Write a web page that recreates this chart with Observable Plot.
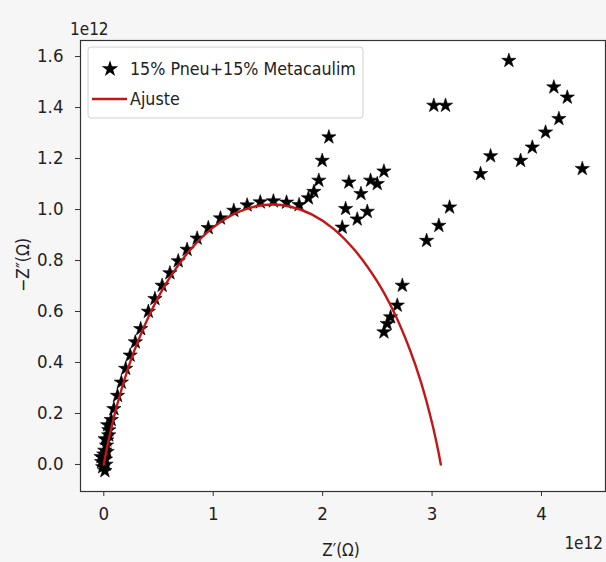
<!DOCTYPE html>
<html><head><meta charset="utf-8">
<script src="https://cdn.jsdelivr.net/npm/d3@7"></script>
<script src="https://cdn.jsdelivr.net/npm/@observablehq/plot@0.6"></script>
<style>
html,body{margin:0;padding:0;background:#f6f6f6;}
#chart{width:606px;height:562px;position:relative;}
</style></head><body><div id="chart"></div>
<script>
// Measured impedance (units of 1e12 Ω)
const zReal = [-0.01,0.01,-0.02,-0.005,0.0,0.008,0.025,0.027,0.045,0.046,0.068,
  0.02,-0.025,0.03,0.015,0.012,0.035,
  0.092,0.125,0.16,0.2,0.241,0.288,0.337,0.407,0.467,0.533,0.604,0.68,0.761,0.853,0.955,1.066,1.188,
  1.31,1.43,1.55,1.67,1.785,1.87,1.92,1.965,1.996,2.057,
  2.179,2.21,2.24,2.316,2.35,2.408,2.438,2.499,2.56,
  2.56,2.59,2.621,2.682,2.728,
  2.95,3.062,3.16,3.016,3.123,3.443,3.535,3.702,3.809,3.916,4.037,4.159,4.113,4.236,4.373];
const zImag = [-0.01,-0.025,0.01,0.024,0.04,0.055,0.075,0.095,0.115,0.135,0.175,
  0.0,0.03,0.05,0.02,0.1,0.155,
  0.218,0.27,0.322,0.376,0.428,0.48,0.532,0.6,0.65,0.702,0.751,0.798,0.843,0.887,0.928,0.966,0.996,
  1.017,1.029,1.033,1.028,1.018,1.045,1.07,1.114,1.192,1.284,
  0.93,1.003,1.107,0.962,1.062,0.992,1.114,1.101,1.15,
  0.519,0.552,0.578,0.624,0.702,
  0.878,0.937,1.009,1.408,1.408,1.14,1.21,1.584,1.192,1.244,1.303,1.356,1.48,1.44,1.16];
// Fitted curve ("Ajuste")
const fitReal = [0,0.02,0.05,0.1,0.2,0.3,0.45,0.6,0.8,1.0,1.2,1.4,1.54,1.7,1.9,2.1,2.3,2.5,2.65,2.8,2.9,3.0,3.05,3.08];
const fitImag = [0,0.045,0.107,0.198,0.348,0.47,0.616,0.731,0.847,0.93,0.985,1.014,1.02,1.012,0.981,0.924,0.837,0.717,0.599,0.447,0.321,0.163,0.067,0.0];
const xTicks = [0,1,2,3,4];
const yTicks = [0,0.2,0.4,0.6,0.8,1.0,1.2,1.4,1.6];
const seriesLabel = "15% Pneu+15% Metacaulim";
const fitLabel = "Ajuste";
const xLabel = "Z\u2032(\u03A9)";
const yLabel = "\u2212Z\u2033(\u03A9)";
const offsetLabel = "1e12";

const pts = zReal.map((x,i)=>({x, y:zImag[i]}));
const fit = fitReal.map((x,i)=>({x, y:fitImag[i]}));
const font = "'DejaVu Sans Condensed','DejaVu Sans',sans-serif";
const red = "#c41616";

const chart = Plot.plot({
  width:606, height:562, marginLeft:80, marginRight:1, marginTop:40, marginBottom:71,
  style:{background:"transparent", fontFamily:font, fontSize:"18px", color:"#222", overflow:"visible"},
  x:{domain:[-0.213,4.585]},
  y:{domain:[-0.106,1.663]},
  marks:[
    Plot.frame({fill:"white"}),
    Plot.dot(pts,{x:"x",y:"y",symbol:"star",r:4.5,fill:"black",stroke:"black",strokeWidth:0.6}),
    Plot.line(fit,{x:"x",y:"y",stroke:red,strokeWidth:2.4,curve:"catmull-rom"}),
    Plot.frame({stroke:"#333",strokeWidth:1.2}),
    Plot.axisX({ticks:xTicks,tickFormat:d3.format("d"),label:null,tickSize:5,tickPadding:10,fontSize:18.5,stroke:"#333"}),
    Plot.axisY({ticks:yTicks,tickFormat:d3.format(".1f"),label:null,tickSize:5,tickPadding:12,fontSize:18.5,stroke:"#333"})
  ]
});
document.getElementById("chart").appendChild(chart);

const svg = d3.select(chart);
const g = svg.append("g").attr("font-family",font).attr("fill","#222").attr("text-anchor","start");
g.append("text").attr("x",70).attr("y",35).attr("font-size",17).text(offsetLabel);
g.append("text").attr("x",603).attr("y",549).attr("text-anchor","end").attr("font-size",17).text(offsetLabel);
g.append("text").attr("x",341).attr("y",556).attr("text-anchor","middle").attr("font-size",17).text(xLabel);
g.append("text").attr("transform","translate(29,265) rotate(-90)").attr("text-anchor","middle").attr("font-size",17.5).text(yLabel);

// legend
const lg = svg.append("g").attr("font-family",font).attr("text-anchor","start");
lg.append("rect").attr("x",88).attr("y",47).attr("width",275).attr("height",71).attr("rx",3)
  .attr("fill","white").attr("fill-opacity",0.85).attr("stroke","#d0d0d0");
lg.append("path").attr("d",d3.symbol(d3.symbolStar, Math.PI*5.2*5.2)()).attr("transform","translate(110,69)").attr("fill","black");
lg.append("text").attr("x",130).attr("y",75).attr("font-size",17.7).attr("fill","#222").text(seriesLabel);
lg.append("line").attr("x1",92).attr("x2",127).attr("y1",99).attr("y2",99).attr("stroke",red).attr("stroke-width",2.5);
lg.append("text").attr("x",130).attr("y",105).attr("font-size",17.7).attr("fill","#222").text(fitLabel);
</script></body></html>
